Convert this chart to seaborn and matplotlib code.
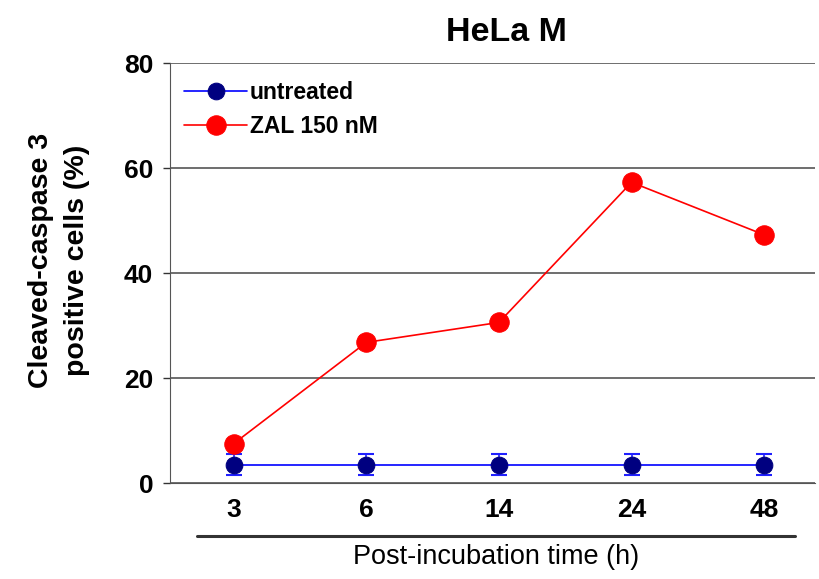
import matplotlib.pyplot as plt
import seaborn as sns
from matplotlib.lines import Line2D

times = ["3", "6", "14", "24", "48"]
untreated = [3.5, 3.5, 3.5, 3.5, 3.5]
untreated_err = [2.0, 2.0, 2.0, 2.0, 2.0]
zal = [7.5, 26.8, 30.6, 57.3, 47.3]
zal_err = [0.8, 1.2, 0.8, 0.8, 0.8]

sns.set_style("white")
plt.rcParams["font.family"] = ["Liberation Sans", "DejaVu Sans"]
plt.rcParams["font.weight"] = "bold"
plt.rcParams["text.color"] = "black"
plt.rcParams["axes.labelcolor"] = "black"
plt.rcParams["xtick.labelcolor"] = "black"
plt.rcParams["ytick.labelcolor"] = "black"

fig = plt.figure(figsize=(8.19, 5.79), dpi=100)
ax = fig.add_axes([0.2076, 0.1658, 0.787, 0.725])

pos = list(range(len(times)))
ax.errorbar(pos, untreated, yerr=untreated_err, fmt="none", ecolor="#2020ff",
            elinewidth=1.2, capsize=6, capthick=1.5, zorder=2)
ax.errorbar(pos, zal, yerr=zal_err, fmt="none", ecolor="#ff4040",
            elinewidth=1.2, capsize=5, capthick=1.2, zorder=2)
sns.lineplot(x=pos, y=untreated, ax=ax, color="#0000ff", lw=1.2, marker="o",
             markersize=12, markerfacecolor="#000080", markeredgecolor="#000080",
             label="untreated", zorder=3)
sns.lineplot(x=pos, y=zal, ax=ax, color="#ff0000", lw=1.2, marker="o",
             markersize=14, markerfacecolor="#ff0000", markeredgecolor="#ff0000",
             label="ZAL 150 nM", zorder=3)

ax.set_ylim(0, 80)
ax.set_yticks([0, 20, 40, 60, 80])
ax.set_xlim(-0.48, 4.38)
ax.set_xticks(pos)
ax.set_xticklabels(times)
ax.tick_params(axis="x", length=0, pad=11, labelsize=19, labelcolor="black")
ax.set_xticks([p + 0.5 for p in pos[:-1]], minor=True)
ax.tick_params(axis="x", which="minor", length=5, width=1, color="#333333", direction="out")
ax.tick_params(axis="y", length=5, width=1, color="#333333", direction="out",
               labelsize=19, pad=7, left=True, labelcolor="black")
for lab in ax.get_xticklabels() + ax.get_yticklabels():
    lab.set_fontweight("bold")

ax.yaxis.grid(True, color="#555555", lw=1.2)
ax.set_axisbelow(True)
for s in ["top", "right"]:
    ax.spines[s].set_visible(False)
ax.spines["left"].set_color("#555555")
ax.spines["bottom"].set_color("#555555")

ax.set_ylabel("Cleaved-caspase 3\npositive cells (%)", fontsize=20.5, fontweight="bold",
              linespacing=1.5, color="black")
ax.yaxis.label.set_va("center")
ax.yaxis.set_label_coords((59 - 170) / 645, (483 - 260) / 420)
ax.set_xlabel("")
ax.set_title("HeLa M", fontsize=24.5, fontweight="bold", pad=16, x=(507 - 170) / 645,
             color="black")

fig.add_artist(Line2D([197 / 819, 795 / 819], [1 - 536 / 579, 1 - 536 / 579],
                      color="#333333", lw=2.2))
fig.text(496 / 819, 1 - 557 / 579, "Post-incubation time (h)", ha="center", va="center",
         fontsize=19.5, fontweight="normal", color="black")

leg = ax.legend(loc="upper left", bbox_to_anchor=((184 - 170) / 645, (483 - 81) / 420),
                frameon=False, handlelength=2.75, handletextpad=0.12,
                borderaxespad=0, borderpad=0, labelspacing=0.45,
                prop={"weight": "bold", "size": 16.5})
for t in leg.get_texts():
    t.set_color("black")

fig.savefig("out.png", dpi=100)
